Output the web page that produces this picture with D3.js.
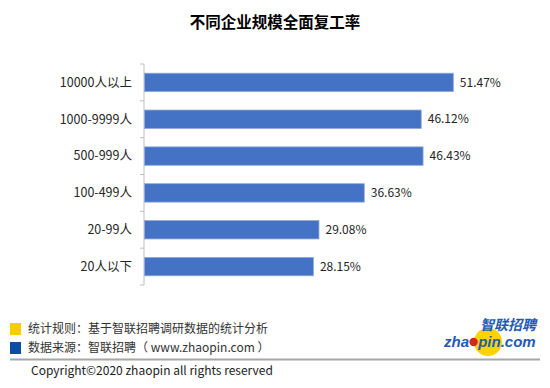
<!DOCTYPE html>
<html lang="zh">
<head>
<meta charset="UTF-8">
<title>不同企业规模全面复工率</title>
<script src="https://cdn.jsdelivr.net/npm/d3@7"></script>
<style>
  body { margin: 0; background: #fff; }
  svg { display: block; font-family: "Microsoft YaHei", "Noto Sans CJK SC", sans-serif; }
</style>
</head>
<body>
<div id="chart"></div>
<script>
// categories, top to bottom
var categories = ["10000人以上", "1000-9999人", "500-999人", "100-499人", "20-99人", "20人以下"];
var rates = [51.47, 46.12, 46.43, 36.63, 29.08, 28.15];
var notes = ["统计规则：基于智联招聘调研数据的统计分析", "数据来源：智联招聘（ www.zhaopin.com ）"];
var noteColors = ["#FFCC00", "#0A4DA2"];

var W = 550, H = 388;
var svg = d3.select("#chart").append("svg").attr("width", W).attr("height", H);

// title
svg.append("text")
  .attr("x", 275).attr("y", 28)
  .attr("text-anchor", "middle")
  .attr("font-size", "15.5px").attr("font-weight", "bold")
  .attr("fill", "#000")
  .text("不同企业规模全面复工率");

var x = d3.scaleLinear().domain([0, 60]).range([144, 504]);
var y = d3.scaleBand().domain(categories).range([64, 285])
  .paddingInner(0.5).paddingOuter(0.25);

// axis line + ticks between categories
var g = svg.append("g");
g.append("line")
  .attr("x1", x(0)).attr("x2", x(0))
  .attr("y1", y.range()[0]).attr("y2", y.range()[1])
  .attr("stroke", "#BFBFBF").attr("stroke-width", 1);
g.selectAll(".tk").data(d3.range(categories.length + 1)).enter().append("line")
  .attr("x1", x(0) - 4).attr("x2", x(0))
  .attr("y1", function(i) { return y.range()[0] + i * y.step(); })
  .attr("y2", function(i) { return y.range()[0] + i * y.step(); })
  .attr("stroke", "#BFBFBF");

// bars
g.selectAll(".bar").data(categories).enter().append("rect")
  .attr("x", x(0) + 0.5)
  .attr("y", function(d) { return y(d); })
  .attr("width", function(d, i) { return x(rates[i]) - x(0); })
  .attr("height", y.bandwidth())
  .attr("fill", "#4472C4")
  .attr("stroke", "#8FAADC").attr("stroke-width", 0.8);

// category labels
g.selectAll(".cat").data(categories).enter().append("text")
  .attr("x", x(0) - 12)
  .attr("y", function(d) { return y(d) + y.bandwidth() / 2; })
  .attr("dy", "0.35em")
  .attr("text-anchor", "end")
  .attr("font-size", "12.5px").attr("fill", "#262626")
  .text(function(d) { return d; });

// value labels
g.selectAll(".val").data(categories).enter().append("text")
  .attr("x", function(d, i) { return x(rates[i]) + 7; })
  .attr("y", function(d) { return y(d) + y.bandwidth() / 2; })
  .attr("dy", "0.35em")
  .attr("font-size", "12px").attr("fill", "#262626")
  .text(function(d, i) { return rates[i].toFixed(2) + "%"; });

// footer notes
var f = svg.append("g");
f.selectAll(".sq").data(notes).enter().append("rect")
  .attr("x", 10).attr("y", function(d, i) { return 323 + i * 19; })
  .attr("width", 11).attr("height", 12)
  .attr("fill", function(d, i) { return noteColors[i]; });
f.selectAll(".nt").data(notes).enter().append("text")
  .attr("x", 28).attr("y", function(d, i) { return 329 + i * 19; })
  .attr("dy", "0.35em")
  .attr("font-size", "12px").attr("fill", "#333")
  .text(function(d) { return d; });

f.append("line")
  .attr("x1", 10).attr("x2", 540).attr("y1", 359.5).attr("y2", 359.5)
  .attr("stroke", "#A6A6A6").attr("stroke-width", 2);

f.append("text")
  .attr("x", 31).attr("y", 371).attr("dy", "0.35em")
  .attr("font-size", "12px").attr("fill", "#222")
  .text("Copyright©2020 zhaopin all rights reserved");

// logo
var logo = svg.append("g");
logo.append("circle").attr("cx", 488).attr("cy", 342).attr("r", 14).attr("fill", "#FFD200");
logo.append("text")
  .attr("x", 536).attr("y", 330)
  .attr("text-anchor", "end")
  .attr("font-size", "14px").attr("font-weight", "bold").attr("font-style", "italic")
  .attr("fill", "#1F5BB5")
  .text("智联招聘");
var lt = logo.append("text")
  .attr("x", 444).attr("y", 347)
  .attr("font-family", "'Liberation Sans', Arial, sans-serif")
  .attr("font-size", "15px").attr("font-weight", "bold").attr("font-style", "italic")
  .attr("fill", "#1F5BB5");
lt.append("tspan").text("zha");
lt.append("tspan").attr("fill", "none").text("o");
lt.append("tspan").text("pin.com");
var zw = lt.node().getSubStringLength(0, 3);
var ow = lt.node().getSubStringLength(3, 1);
logo.append("circle")
  .attr("cx", 444 + zw + ow / 2).attr("cy", 342)
  .attr("r", 4.2).attr("fill", "#D7261E");
</script>
</body>
</html>
